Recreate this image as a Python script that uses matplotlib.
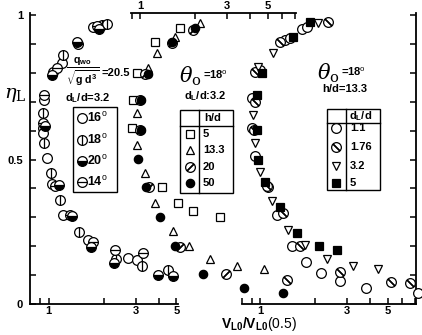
import matplotlib.pyplot as plt
from matplotlib.patches import Rectangle
from matplotlib.ticker import NullLocator

plt.rcParams['font.family'] = 'Liberation Sans'
plt.rcParams['mathtext.fontset'] = 'custom'
plt.rcParams['mathtext.rm'] = 'Liberation Sans'
plt.rcParams['mathtext.bf'] = 'Liberation Sans:bold'
plt.rcParams['mathtext.it'] = 'Liberation Sans:italic'

# ---- data (V_L0/V_L0(0.5), eta_L) ----
# panel 1: theta0, dL/d = 3.2
p1_v_16 = [1.75, 1.19, 1.06, 0.945, 0.933, 0.933, 0.98, 1.045, 1.20, 1.64, 2.72, 3.04]
p1_e_16 = [0.958, 0.834, 0.803, 0.706, 0.609, 0.592, 0.505, 0.415, 0.308, 0.221, 0.159, 0.152]
p1_v_18 = [1.96, 2.09, 1.20, 0.933, 0.945, 1.03, 1.16, 1.47, 2.34, 3.24, 4.50]
p1_e_18 = [0.965, 0.969, 0.862, 0.661, 0.557, 0.453, 0.360, 0.249, 0.156, 0.131, 0.118]
p1_v_20 = [1.89, 1.43, 1.045, 0.957, 1.14, 1.34, 1.71, 2.28, 3.97, 4.79]
p1_e_20 = [0.952, 0.907, 0.792, 0.616, 0.412, 0.304, 0.197, 0.142, 0.100, 0.097]
p1_v_14 = [1.84, 1.45, 1.11, 0.945, 0.933, 1.085, 1.31, 1.75, 2.31, 3.28]
p1_e_14 = [0.962, 0.900, 0.817, 0.723, 0.626, 0.408, 0.308, 0.215, 0.187, 0.176]

# panel 2: h/d, theta0 = 18 deg, dL/d = 3.2
p2_v_5 = [1.65, 1.21, 0.963, 0.916, 0.904, 1.32, 1.61, 1.95, 2.73]
p2_e_5 = [0.955, 0.907, 0.799, 0.706, 0.609, 0.405, 0.349, 0.322, 0.301]
p2_v_13 = [2.13, 1.55, 1.24, 1.11, 0.963, 0.963, 1.065, 1.21, 1.52, 1.85, 2.41, 3.39, 4.76]
p2_e_13 = [0.972, 0.924, 0.869, 0.817, 0.661, 0.550, 0.453, 0.349, 0.253, 0.201, 0.156, 0.131, 0.121]
p2_v_20 = [1.95, 1.50, 1.065, 1.0, 1.0, 1.12, 1.65, 2.95]
p2_e_20 = [0.948, 0.903, 0.796, 0.706, 0.602, 0.405, 0.197, 0.104]
p2_v_50 = [2.0, 1.50, 1.11, 1.013, 1.013, 0.975, 1.078, 1.29, 1.55, 2.21, 3.70, 6.05]
p2_e_50 = [0.955, 0.907, 0.796, 0.706, 0.602, 0.502, 0.405, 0.301, 0.201, 0.104, 0.055, 0.038]

# panel 3: dL/d, theta0 = 18 deg, h/d = 13.3
p3_v_11 = [1.70, 1.81, 1.37, 1.46, 1.0, 0.904, 0.904, 0.939, 1.106, 1.24, 1.50, 1.78, 2.15, 2.73, 3.79, 7.3]
p3_e_11 = [0.952, 0.958, 0.913, 0.920, 0.810, 0.713, 0.609, 0.512, 0.405, 0.308, 0.201, 0.145, 0.107, 0.080, 0.055, 0.038]
p3_v_176 = [2.35, 1.29, 0.939, 0.939, 0.928, 1.09, 1.34, 1.65, 2.73, 1.41, 5.19, 6.61]
p3_e_176 = [0.976, 0.907, 0.803, 0.699, 0.602, 0.408, 0.315, 0.201, 0.111, 0.083, 0.076, 0.073]
p3_v_32 = [2.07, 1.18, 0.975, 0.916, 0.939, 1.0, 1.16, 1.42, 1.76, 2.32, 3.22, 4.42]
p3_e_32 = [0.972, 0.869, 0.820, 0.654, 0.557, 0.457, 0.356, 0.256, 0.204, 0.156, 0.131, 0.121]
p3_v_5 = [1.88, 1.52, 1.025, 0.963, 0.963, 0.975, 1.065, 1.29, 1.59, 2.10, 2.63]
p3_e_5 = [0.976, 0.924, 0.799, 0.723, 0.602, 0.498, 0.422, 0.336, 0.246, 0.201, 0.187]

p1_labels = ['16', '18', '20', '14']
p2_labels = ['5', '13.3', '20', '50']
p3_labels = ['1.1', '1.76', '3.2', '5']

# marker styles: list of layers
MEW = 0.9
STYLES = {
    'open': [dict(marker='o', mfc='w', ms=7)],
    'vbar': [dict(marker='o', mfc='w', ms=7), dict(marker='|', ms=7)],
    'half': [dict(marker='o', fillstyle='bottom', mfc='k', markerfacecoloralt='w', ms=7)],
    'hbar': [dict(marker='o', mfc='w', ms=7), dict(marker='_', ms=7)],
    'square': [dict(marker='s', mfc='w', ms=5.2)],
    'tri': [dict(marker='^', mfc='w', ms=6)],
    'fslash': [dict(marker='o', mfc='w', ms=7), dict(marker=(2, 2, -45), ms=7)],
    'dot': [dict(marker='o', mfc='k', ms=6)],
    'bslash': [dict(marker='o', mfc='w', ms=7), dict(marker=(2, 2, 45), ms=7)],
    'tridown': [dict(marker='v', mfc='w', ms=6)],
    'fsquare': [dict(marker='s', mfc='k', ms=5.5)],
}


def draw(ax, x, y, kind, transform=None, z=3):
    for layer in STYLES[kind]:
        kw = dict(ls='none', mec='k', mew=MEW, clip_on=False, zorder=z)
        kw.update(layer)
        if transform is not None:
            kw['transform'] = transform
        ax.plot(x, y, **kw)


W, H = 422, 335
DEC = 183.0  # px per decade
fig = plt.figure(figsize=(W / 100, H / 100), dpi=100)
pos = [30 / W, 1 - 304 / H, 386 / W, 291 / H]
axes = [fig.add_axes(pos) for _ in range(3)]
for ax, one in zip(axes, (48.5, 140, 260)):
    ax.set_xscale('log')
    ax.set_xlim(10 ** ((30 - one) / DEC), 10 ** ((416 - one) / DEC))
    ax.set_ylim(0, 291 / 289)
    ax.patch.set_visible(False)
    for s in ax.spines.values():
        s.set_visible(False)
        s.set_linewidth(1.3)
    ax.xaxis.set_minor_locator(NullLocator())
    ax.tick_params(which='both', left=False, bottom=False, top=False, right=False,
                   labelleft=False, labelbottom=False)
ax1, ax2, ax3 = axes

tick_kw = dict(direction='in', length=4, width=1.1, labelsize=8)


def log_ticks(ax, ticks):
    ax.set_xticks(ticks)
    ax.set_xticklabels([str(t) if t in (1, 3, 5) else '' for t in ticks], fontweight='bold')


# panel 1 axis (left + bottom)
ax1.spines['left'].set_visible(True)
ax1.spines['bottom'].set_visible(True)
ax1.spines['bottom'].set_bounds(ax1.get_xlim()[0], 5.1)
log_ticks(ax1, [0.9, 1, 2, 3, 4, 5])
ax1.tick_params(axis='x', bottom=True, labelbottom=True, pad=1.5, **tick_kw)
ax1.set_yticks([i / 10 for i in range(11)])
ax1.set_yticklabels(['0', '', '', '', '', '0.5', '', '', '', '', '1'], fontweight='bold')
ax1.tick_params(axis='y', left=True, labelleft=True, pad=5, **tick_kw)

# panel 2 axis (top)
ax2.spines['top'].set_visible(True)
ax2.spines['top'].set_bounds(0.893, 7.12)
ax2.xaxis.set_ticks_position('top')
log_ticks(ax2, [0.9, 1, 2, 3, 4, 5, 6, 7])
ax2.tick_params(axis='x', top=True, labeltop=True, bottom=False, labelbottom=False, pad=1.5, **tick_kw)

# panel 3 axis (bottom + right)
ax3.spines['bottom'].set_visible(True)
ax3.spines['bottom'].set_bounds(0.797, ax3.get_xlim()[1])
ax3.spines['right'].set_visible(True)
log_ticks(ax3, [0.8, 0.9, 1, 2, 3, 4, 5, 6, 7])
ax3.tick_params(axis='x', bottom=True, labelbottom=True, pad=1.5, **tick_kw)
ax3.set_yticks([i / 10 for i in range(11)])
ax3.yaxis.set_ticks_position('right')
ax3.tick_params(axis='y', right=True, labelright=False, **tick_kw)

# data
draw(ax1, p1_v_16, p1_e_16, 'open')
draw(ax1, p1_v_18, p1_e_18, 'vbar')
draw(ax1, p1_v_14, p1_e_14, 'hbar')
draw(ax1, p1_v_20, p1_e_20, 'half')

draw(ax2, p2_v_5, p2_e_5, 'square')
draw(ax2, p2_v_13, p2_e_13, 'tri')
draw(ax2, p2_v_20, p2_e_20, 'fslash')
draw(ax2, p2_v_50, p2_e_50, 'dot')

draw(ax3, p3_v_11, p3_e_11, 'open')
draw(ax3, p3_v_176, p3_e_176, 'bslash')
draw(ax3, p3_v_32, p3_e_32, 'tridown')
draw(ax3, p3_v_5, p3_e_5, 'fsquare')

# overlay in pixel coordinates for annotations and legend tables
ov = fig.add_axes([0, 0, 1, 1], zorder=10)
ov.set_xlim(0, W)
ov.set_ylim(H, 0)
ov.axis('off')
T = ov.transData

txt = dict(fontsize=8, fontweight='bold', va='center', ha='left')

# axis titles
ov.text(15, 95, r'$\eta_{\mathrm{L}}$', fontsize=14, ha='center', va='center',
        math_fontfamily='dejavuserif')
ov.text(259, 324, r'$\mathbf{V_{L0}/V_{L0}}$(0.5)', fontsize=10, ha='center', va='center')

# panel 1 annotation
ov.text(83, 72, r'$\frac{\mathbf{q_{wo}}}{\sqrt{\mathbf{g\ d^3}}}$', fontsize=11, ha='center', va='center')
ov.text(101, 73, '=20.5', **txt)
ov.text(65, 98, r'd$_\mathbf{L}$/d=3.2', **txt)
ov.add_patch(Rectangle((73, 107), 44, 85, fill=False, lw=1.0, ec='k'))
for yy, kind, lab in zip((118, 140, 161, 182), ('open', 'vbar', 'half', 'hbar'), p1_labels):
    draw(ov, [82], [yy], kind, transform=T, z=11)
    ov.text(87, yy, lab + r'$^{\mathrm{o}}$', fontsize=9, fontweight='bold', va='center', ha='left')

# panel 2 annotation
ov.text(190, 76, r'$\theta_{\mathrm{o}}$', fontsize=15, ha='center', va='center',
        math_fontfamily='dejavuserif')
ov.text(203, 75, r'=18$^{\mathrm{o}}$', **txt)
ov.text(184, 96, r'd$_\mathbf{L}$/d:3.2', **txt)
ov.add_patch(Rectangle((180, 110), 53, 83, fill=False, lw=1.0, ec='k'))
ov.plot([199, 199], [110, 193], color='k', lw=1.0)
ov.plot([180, 233], [126, 126], color='k', lw=1.0)
ov.text(204, 118, 'h/d', **txt)
for yy, kind, lab in zip((134, 150, 167, 183), ('square', 'tri', 'fslash', 'dot'), p2_labels):
    draw(ov, [190], [yy], kind, transform=T, z=11)
    ov.text(203, yy, lab, **txt)

# panel 3 annotation
ov.text(328, 73, r'$\theta_{\mathrm{o}}$', fontsize=15, ha='center', va='center',
        math_fontfamily='dejavuserif')
ov.text(341, 72, r'=18$^{\mathrm{o}}$', **txt)
ov.text(322, 89, 'h/d=13.3', **txt)
ov.add_patch(Rectangle((327, 109), 53, 81, fill=False, lw=1.0, ec='k'))
ov.plot([346, 346], [109, 190], color='k', lw=1.0)
ov.plot([327, 380], [123, 123], color='k', lw=1.0)
ov.text(349, 116, r'd$_\mathbf{L}$/d', **txt)
for yy, kind, lab in zip((128, 147, 166, 183), ('open', 'bslash', 'tridown', 'fsquare'), p3_labels):
    draw(ov, [336], [yy], kind, transform=T, z=11)
    ov.text(350, yy, lab, **txt)

fig.savefig('out.png', dpi=100)
